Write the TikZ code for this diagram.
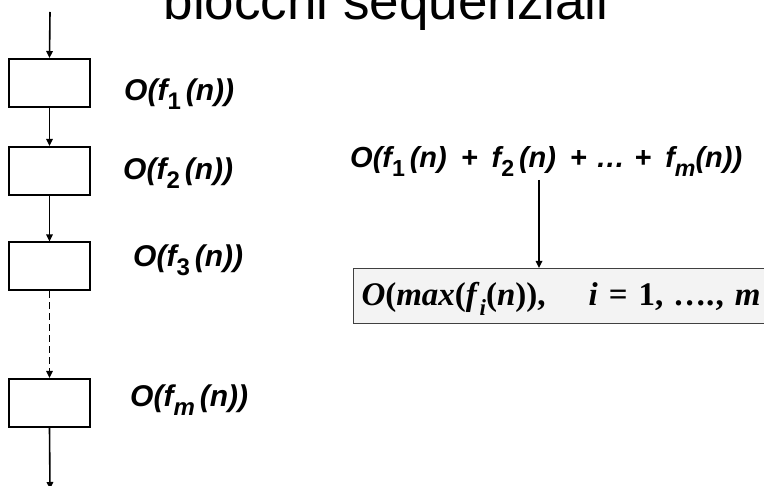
\documentclass[tikz,border=0pt]{standalone}
\usepackage{fontspec}
\setmainfont{Liberation Sans}
\newfontfamily\timesf{Liberation Serif}
\usetikzlibrary{arrows.meta}
\newcommand\sbs[1]{\raisebox{-0.28em}{\scalebox{0.8}{#1}}}
\newcommand\tsb[1]{\raisebox{-0.3em}{\scalebox{0.7}{#1}}}
\definecolor{boxfill}{HTML}{F3F3F3}
\definecolor{boxline}{HTML}{404040}
\begin{document}
\begin{tikzpicture}[x=1pt,y=-1pt,
  blk/.style={draw, line width=2pt, minimum width=81pt, minimum height=48pt, inner sep=0pt},
  arr/.style={line width=1.6pt, -{Triangle[length=7pt,width=6.5pt]}},
  lbl/.style={anchor=base west, inner sep=0pt, font=\fontsize{30}{36}\selectfont\bfseries\itshape},
  sumf/.style={anchor=base west, inner sep=0pt, font=\fontsize{29}{35}\selectfont\bfseries\itshape},
  maxbox/.style={draw=boxline, fill=boxfill, line width=1pt, anchor=north west,
    minimum height=55pt, text width=430pt, inner xsep=8pt, inner ysep=0pt, align=left,
    font=\fontsize{33}{40}\selectfont\timesf\bfseries},
  ttl/.style={anchor=base, inner sep=0pt, font=\fontsize{53}{60}\selectfont}]
\useasboundingbox (0,0) rectangle (764,486);
\clip (0,0) rectangle (764,486);
\node[ttl] (title) at (386,20) {blocchi sequenziali};
% left column
\coordinate (top) at (50,12);
\coordinate (bot) at (50,489);
\node[blk] (b1) at (49.5,83) {};
\node[blk] (b2) at (49.5,171) {};
\node[blk] (b3) at (49.5,266.5) {};
\node[blk] (bm) at (49.5,403) {};
\draw[arr] (top) -- (b1.north);
\draw[arr] (b1.south) -- (b2.north);
\draw[arr] (b2.south) -- (b3.north);
\draw[arr, dash pattern=on 7pt off 4pt] (b3.south) -- (bm.north);
\draw[arr] (bm.south) -- (bot);
\node[lbl] (l1) at (124,101) {O(f\sbs{\upshape 1}\,(n))};
\node[lbl] (l2) at (123,180) {O(f\sbs{\upshape 2}\,(n))};
\node[lbl] (l3) at (133,267) {O(f\sbs{\upshape 3}\,(n))};
\node[lbl] (lm) at (130,407) {O(f\sbs{m}\,(n))};
% right part
\node[sumf] (sum) at (350,168) {O(f\sbs{\upshape 1}\,(n)\hspace{0.48em}+\hspace{0.48em}f\sbs{\upshape 2}\,(n)\hspace{0.48em}+\hspace{0.32em}\dots\hspace{0.32em}+\hspace{0.48em}f\sbs{m}(n))};
\node[maxbox] (mx) at (353,268) {\rule{0pt}{29pt}\textit{O}(\textit{max}(\textit{f}\tsb{\textit{i}}(\textit{n})),\hspace{1.3em}\textit{i} = 1, \textit{….}, \textit{m}};
\coordinate (ta) at (539,180);
\draw[arr] (ta) -- (ta |- mx.north);
\end{tikzpicture}
\end{document}
